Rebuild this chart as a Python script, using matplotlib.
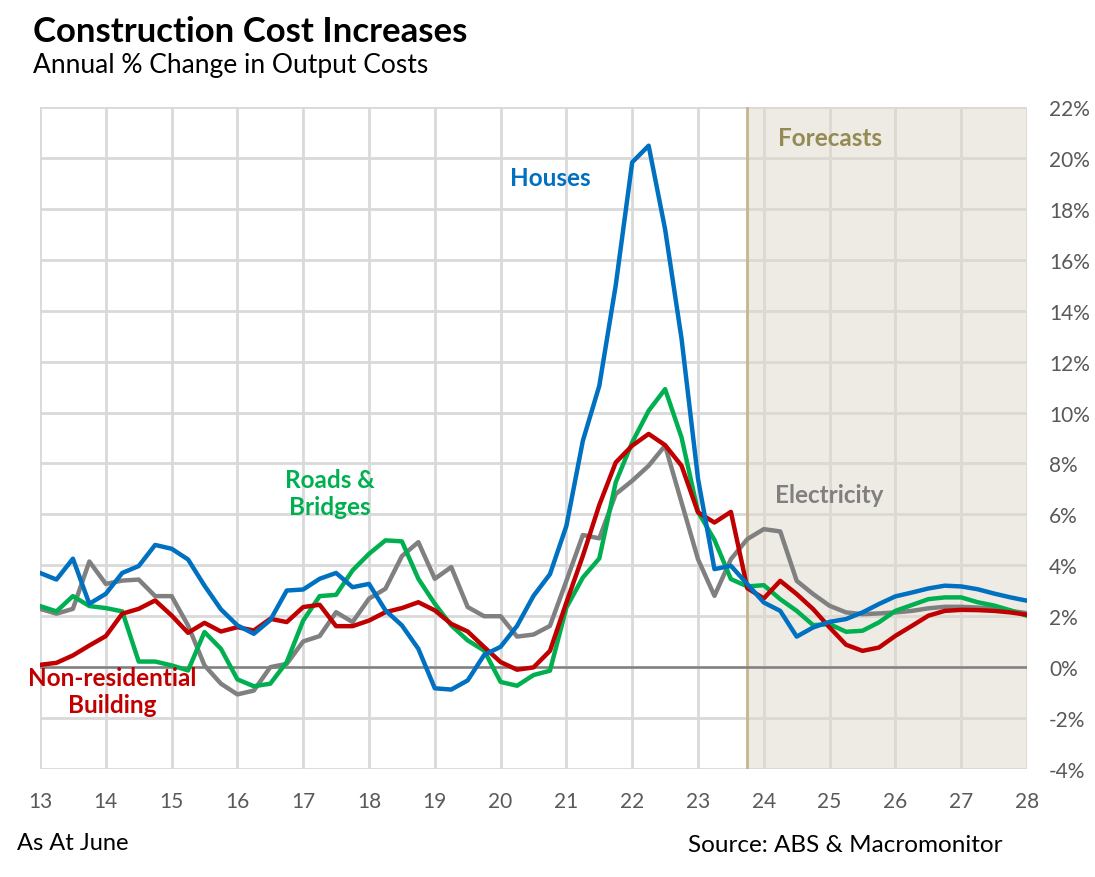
import numpy as np
import matplotlib
matplotlib.use("Agg")
import matplotlib.pyplot as plt

plt.rcParams["font.family"] = ["Lato", "DejaVu Sans"]

# quarterly readings, June 2013 to June 2028
houses = [3.70, 3.44, 4.26, 2.49, 2.88, 3.70, 3.97, 4.80,
          4.65, 4.23, 3.20, 2.27, 1.64, 1.31, 1.85, 3.01,
          3.05, 3.47, 3.70, 3.14, 3.27, 2.23, 1.64, 0.72,
          -0.83, -0.88, -0.52, 0.48, 0.80, 1.62, 2.80, 3.65,
          5.55, 8.89, 11.05, 15.00, 19.83, 20.48, 17.20, 12.90,
          7.40, 3.85, 3.98, 3.26, 2.54, 2.21, 1.20, 1.56,
          1.78, 1.89, 2.15, 2.48, 2.78, 2.93, 3.09, 3.20,
          3.17, 3.06, 2.89, 2.74, 2.61]
roads = [2.40, 2.19, 2.79, 2.40, 2.32, 2.19, 0.22, 0.22,
         0.07, -0.13, 1.38, 0.72, -0.48, -0.75, -0.65, 0.20,
         1.83, 2.79, 2.84, 3.80, 4.45, 4.98, 4.94, 3.47,
         2.49, 1.64, 1.05, 0.65, -0.58, -0.73, -0.31, -0.14,
         2.34, 3.52, 4.27, 7.26, 8.83, 10.07, 10.92, 9.02,
         6.10, 5.00, 3.46, 3.17, 3.22, 2.67, 2.21, 1.65,
         1.69, 1.39, 1.43, 1.76, 2.21, 2.44, 2.67, 2.74,
         2.74, 2.55, 2.42, 2.23, 2.02]
nonres = [0.09, 0.17, 0.46, 0.85, 1.22, 2.10, 2.29, 2.62,
          2.03, 1.35, 1.74, 1.40, 1.57, 1.44, 1.90, 1.77,
          2.36, 2.45, 1.61, 1.61, 1.83, 2.16, 2.32, 2.55,
          2.23, 1.70, 1.40, 0.79, 0.20, -0.10, -0.01, 0.64,
          2.54, 4.37, 6.37, 8.04, 8.70, 9.16, 8.72, 7.91,
          6.08, 5.68, 6.10, 3.10, 2.70, 3.39, 2.87, 2.28,
          1.56, 0.88, 0.64, 0.77, 1.23, 1.62, 2.02, 2.21,
          2.25, 2.24, 2.21, 2.15, 2.06]
electricity = [2.29, 2.10, 2.29, 4.15, 3.27, 3.40, 3.44, 2.79,
               2.79, 1.64, 0.07, -0.65, -1.07, -0.92, 0.00, 0.13,
               1.01, 1.22, 2.16, 1.77, 2.69, 3.08, 4.36, 4.91,
               3.47, 3.93, 2.36, 2.00, 2.00, 1.20, 1.28, 1.62,
               3.39, 5.19, 5.06, 6.80, 7.32, 7.91, 8.70, 6.47,
               4.24, 2.80, 4.24, 5.03, 5.42, 5.33, 3.39, 2.87,
               2.41, 2.15, 2.08, 2.11, 2.15, 2.21, 2.31, 2.37,
               2.37, 2.34, 2.31, 2.21, 2.12]

years = list(range(13, 29))
forecast_start = 23.75
t = 13 + 0.25 * np.arange(len(houses))

fig = plt.figure(figsize=(10.95, 8.78), dpi=100)
ax = fig.add_axes([40 / 1095, 1 - 770 / 878, 987 / 1095, 662 / 878])

# forecast shading
ax.axvspan(forecast_start, 28, color="#dfd9ca", alpha=0.5, lw=0, zorder=1.5)
ax.axvline(forecast_start, color="#c4b68e", lw=2, zorder=1.6)

ax.set_xlim(13, 28)
ax.set_ylim(-4, 22)
ax.set_xticks(years)
ax.set_yticks(np.arange(-4, 23, 2))
ax.grid(True, color="#d9d9d9", lw=2, zorder=1)
ax.set_axisbelow(True)
for s in ax.spines.values():
    s.set_visible(False)
ax.axhline(0, color="#808080", lw=1.8, zorder=2)

ax.yaxis.tick_right()
ax.set_yticklabels([f"{v}%" for v in range(-4, 23, 2)])
ax.tick_params(axis="y", length=0, pad=16, labelsize=15, labelcolor="#595959")
ax.tick_params(axis="x", length=0, pad=16, labelsize=15, labelcolor="#595959")

ax.plot(t, electricity, color="#808080", lw=3.2, zorder=3)
ax.plot(t, roads, color="#00b050", lw=3.2, zorder=4)
ax.plot(t, nonres, color="#c00000", lw=3.2, zorder=5)
ax.plot(t, houses, color="#0070c0", lw=3.2, zorder=6)

lab = dict(fontsize=17.5, fontweight="bold", ha="center", va="center",
           linespacing=1.2, zorder=7)
ax.text(20.75, 19.25, "Houses", color="#0070c0", **lab)
ax.text(17.4, 6.85, "Roads &\nBridges", color="#00b050", **lab)
ax.text(14.1, -0.95, "Non-residential\nBuilding", color="#c00000", **lab)
ax.text(25.0, 6.8, "Electricity", color="#808080", **lab)
ax.text(25.0, 20.8, "Forecasts", color="#948a54", **lab)

fig.text(33 / 1095, 1 - 32 / 878, "Construction Cost Increases", fontsize=25,
         fontweight="bold", ha="left", va="center")
fig.text(33 / 1095, 1 - 66 / 878, "Annual % Change in Output Costs", fontsize=19,
         ha="left", va="center")
fig.text(17 / 1095, 1 - 844 / 878, "As At June", fontsize=17, ha="left", va="center")
fig.text(1003 / 1095, 1 - 846 / 878, "Source: ABS & Macromonitor", fontsize=17.5,
         ha="right", va="center")

fig.savefig("out.png", dpi=100)
